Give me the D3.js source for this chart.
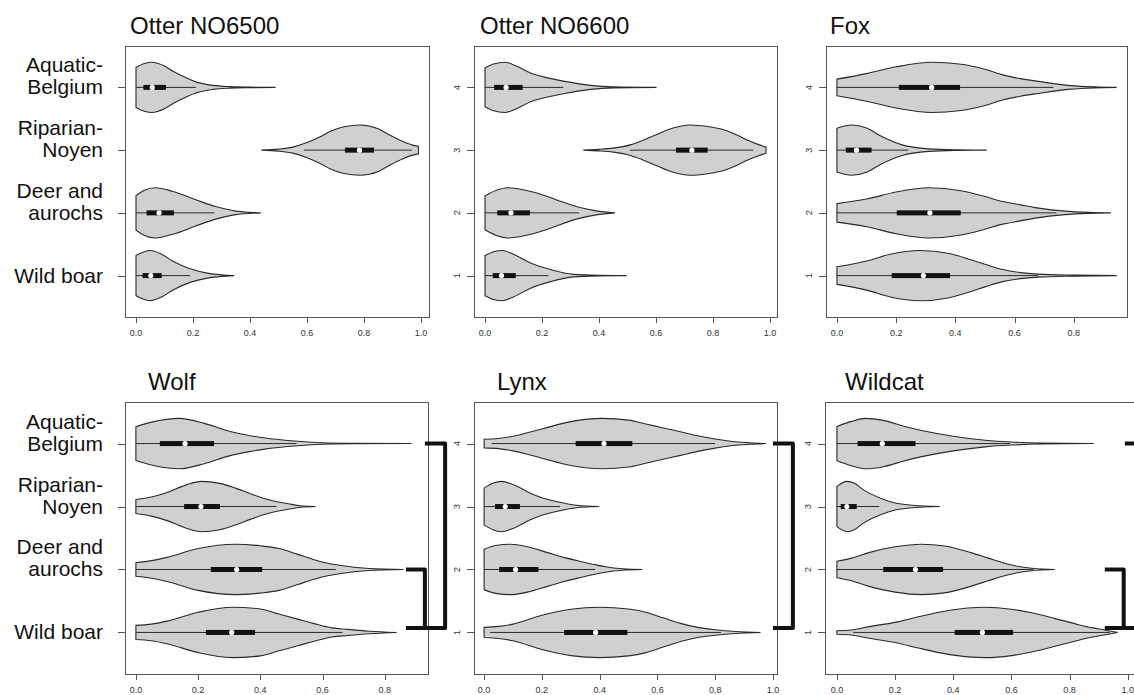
<!DOCTYPE html>
<html>
<head>
<meta charset="utf-8">
<script src="https://cdnjs.cloudflare.com/ajax/libs/d3/7.8.5/d3.min.js"></script>
<style>
  body { margin: 0; background: #fff; }
  svg { display: block; font-family: "Liberation Sans", Arial, sans-serif; }
</style>
</head>
<body>
<svg id="chart" width="1134" height="695"></svg>
<script>
// groups, top to bottom, and their position on the y axis
const groupNames = [["Aquatic-", "Belgium"], ["Riparian-", "Noyen"], ["Deer and", "aurochs"], ["Wild boar"]]
const groupPos = [4, 3, 2, 1]

const panelTitles = ["Otter NO6500", "Otter NO6600", "Fox", "Wolf", "Lynx", "Wildcat"]

// one violin = [position, whiskerLo, whiskerHi, q1, median, q3, density profile [value, relative half width]]
const otter6500 = [
  [4, 0, 0.21, 0.026, 0.057, 0.105, [[0,0.8],[0.03,0.95],[0.055,1],[0.1,0.85],[0.13,0.64],[0.178,0.37],[0.21,0.22],[0.27,0.08],[0.33,0.03],[0.4,0.01],[0.49,0]]],
  [3, 0.59, 0.968, 0.733, 0.784, 0.835, [[0.44,0],[0.5,0.04],[0.55,0.12],[0.6,0.3],[0.65,0.55],[0.68,0.74],[0.73,0.93],[0.786,1],[0.85,0.85],[0.89,0.6],[0.937,0.34],[0.97,0.2],[0.991,0.15]]],
  [2, 0, 0.275, 0.037, 0.081, 0.133, [[0,0.69],[0.03,0.9],[0.067,1],[0.13,0.85],[0.21,0.52],[0.28,0.25],[0.35,0.07],[0.4,0.02],[0.438,0]]],
  [1, 0, 0.19, 0.023, 0.052, 0.09, [[0,0.8],[0.05,1],[0.09,0.85],[0.13,0.57],[0.19,0.27],[0.25,0.1],[0.3,0.03],[0.344,0]]]
]
const otter6600 = [
  [4, 0, 0.275, 0.032, 0.074, 0.132, [[0,0.77],[0.03,0.93],[0.07,1],[0.11,0.85],[0.16,0.57],[0.22,0.38],[0.28,0.24],[0.37,0.08],[0.45,0.02],[0.602,0]]],
  [3, 0.509, 0.942, 0.67, 0.726, 0.781, [[0.345,0],[0.4,0.03],[0.45,0.08],[0.51,0.21],[0.55,0.37],[0.6,0.61],[0.66,0.88],[0.72,1],[0.78,0.94],[0.84,0.8],[0.88,0.62],[0.92,0.4],[0.96,0.22],[0.986,0.12]]],
  [2, 0, 0.33, 0.043, 0.091, 0.158, [[0,0.67],[0.04,0.9],[0.08,1],[0.15,0.88],[0.22,0.65],[0.27,0.44],[0.32,0.25],[0.39,0.08],[0.456,0]]],
  [1, 0, 0.222, 0.027, 0.058, 0.108, [[0,0.8],[0.03,0.95],[0.06,1],[0.1,0.85],[0.16,0.5],[0.23,0.24],[0.31,0.05],[0.4,0.01],[0.497,0]]]
]
const fox = [
  [4, 0, 0.731, 0.209, 0.32, 0.416, [[0,0.33],[0.1,0.55],[0.2,0.82],[0.32,1],[0.42,0.92],[0.5,0.72],[0.56,0.5],[0.62,0.35],[0.68,0.24],[0.79,0.07],[0.87,0.02],[0.945,0]]],
  [3, 0, 0.241, 0.03, 0.066, 0.117, [[0,0.87],[0.05,1],[0.1,0.88],[0.15,0.55],[0.22,0.21],[0.31,0.05],[0.4,0.01],[0.506,0]]],
  [2, 0, 0.742, 0.202, 0.314, 0.418, [[0,0.37],[0.1,0.55],[0.2,0.83],[0.31,1],[0.42,0.88],[0.5,0.65],[0.56,0.45],[0.62,0.32],[0.67,0.21],[0.77,0.07],[0.85,0.02],[0.926,0]]],
  [1, 0, 0.68, 0.185, 0.292, 0.382, [[0,0.35],[0.1,0.58],[0.18,0.85],[0.28,1],[0.38,0.88],[0.45,0.64],[0.5,0.45],[0.56,0.24],[0.62,0.12],[0.68,0.06],[0.8,0.02],[0.945,0]]]
]
const wolf = [
  [4, 0, 0.516, 0.077, 0.158, 0.251, [[0,0.67],[0.05,0.85],[0.14,1],[0.22,0.8],[0.3,0.49],[0.36,0.33],[0.41,0.23],[0.52,0.09],[0.6,0.03],[0.7,0.01],[0.886,0]]],
  [3, 0, 0.452, 0.155, 0.209, 0.27, [[0,0.28],[0.05,0.38],[0.1,0.56],[0.16,0.85],[0.21,1],[0.27,0.92],[0.32,0.73],[0.37,0.5],[0.41,0.33],[0.45,0.2],[0.49,0.11],[0.53,0.03],[0.578,0]]],
  [2, 0, 0.643, 0.241, 0.324, 0.406, [[0,0.27],[0.05,0.35],[0.1,0.48],[0.2,0.83],[0.32,1],[0.4,0.94],[0.46,0.83],[0.52,0.6],[0.57,0.4],[0.62,0.24],[0.66,0.16],[0.75,0.04],[0.86,0]]],
  [1, 0, 0.664, 0.225, 0.308, 0.383, [[0,0.28],[0.05,0.33],[0.1,0.45],[0.2,0.8],[0.31,1],[0.4,0.93],[0.46,0.73],[0.52,0.53],[0.57,0.36],[0.63,0.18],[0.68,0.12],[0.75,0.05],[0.838,0]]]
]
const lynx = [
  [4, 0.026, 0.8, 0.317, 0.415, 0.513, [[0,0.17],[0.05,0.2],[0.1,0.29],[0.2,0.58],[0.3,0.87],[0.41,1],[0.5,0.93],[0.56,0.78],[0.62,0.62],[0.68,0.47],[0.74,0.31],[0.8,0.18],[0.86,0.08],[0.92,0.03],[0.976,0]]],
  [3, 0, 0.263, 0.038, 0.073, 0.124, [[0,0.73],[0.03,0.92],[0.06,1],[0.1,0.87],[0.16,0.53],[0.2,0.35],[0.25,0.2],[0.32,0.05],[0.398,0]]],
  [2, 0, 0.384, 0.052, 0.109, 0.188, [[0,0.8],[0.04,0.95],[0.09,1],[0.15,0.9],[0.22,0.67],[0.28,0.47],[0.33,0.33],[0.38,0.2],[0.42,0.11],[0.48,0.03],[0.548,0]]],
  [1, 0.02, 0.82, 0.277, 0.386, 0.496, [[0,0.2],[0.05,0.24],[0.1,0.33],[0.2,0.68],[0.3,0.92],[0.4,1],[0.5,0.93],[0.56,0.8],[0.62,0.58],[0.68,0.36],[0.74,0.2],[0.8,0.11],[0.87,0.04],[0.957,0]]]
]
const wildcat = [
  [4, 0, 0.595, 0.071, 0.156, 0.27, [[0,0.68],[0.05,0.88],[0.1,1],[0.16,0.92],[0.23,0.69],[0.3,0.5],[0.4,0.29],[0.51,0.13],[0.6,0.06],[0.7,0.02],[0.883,0]]],
  [3, 0, 0.146, 0.013, 0.034, 0.068, [[0,0.8],[0.035,1],[0.06,0.92],[0.09,0.67],[0.15,0.33],[0.2,0.14],[0.26,0.05],[0.354,0]]],
  [2, 0, 0.675, 0.159, 0.27, 0.365, [[0,0.33],[0.05,0.45],[0.11,0.67],[0.2,0.9],[0.29,1],[0.37,0.93],[0.46,0.67],[0.52,0.45],[0.57,0.27],[0.62,0.13],[0.67,0.05],[0.749,0]]],
  [1, 0.056, 0.938, 0.405, 0.5, 0.606, [[0,0.07],[0.05,0.1],[0.11,0.23],[0.2,0.4],[0.28,0.62],[0.37,0.84],[0.45,0.97],[0.51,1],[0.6,0.92],[0.7,0.7],[0.75,0.55],[0.82,0.34],[0.88,0.18],[0.92,0.1],[0.965,0]]]
]
const panelData = [otter6500, otter6600, fox, wolf, lynx, wildcat]

// brackets: [panel, from position, to position, x start, x end]
const brackets = [
  [3, 2, 1.07, 0.868, 0.929],
  [3, 4, 1.07, 0.929, 0.994],
  [4, 4, 1.07, 1.0, 1.069],
  [5, 2, 1.07, 0.921, 0.986],
  [5, 4, 1.07, 0.99, 1.06]
]

// panel boxes (pixels) and x ranges
const layout = [
  {left: 125, right: 429, top: 46, bottom: 317, dom: [-0.0386, 1.028], titleDx: 5},
  {left: 474, right: 777, top: 46, bottom: 317, dom: [-0.0386, 1.0246], titleDx: 6},
  {left: 826, right: 1127, top: 46, bottom: 317, dom: [-0.037, 0.98], titleDx: 4},
  {left: 125, right: 428, top: 402, bottom: 674, dom: [-0.035, 0.939], titleDx: 23},
  {left: 474, right: 777, top: 402, bottom: 674, dom: [-0.035, 1.014], titleDx: 23},
  {left: 825, right: 1140, top: 402, bottom: 674, dom: [-0.041, 1.042], titleDx: 20}
]

const svg = d3.select("#chart")
const fillCol = "#d0d0d0"
const lineCol = "#2a2a2a"
const frameCol = "#555"

layout.forEach((L, pi) => {
  let x = d3.scaleLinear().domain(L.dom).range([L.left, L.right])
  let y = d3.scaleLinear().domain([0.34, 4.66]).range([L.bottom, L.top])
  let hw = y(0) - y(0.4)
  let g = svg.append("g")

  // violins
  panelData[pi].forEach(v => {
    let [pos, wlo, whi, q1, med, q3, prof] = v
    let yc = y(pos)
    let area = d3.area()
      .x(d => x(d[0]))
      .y0(d => yc - d[1] * hw)
      .y1(d => yc + d[1] * hw)
      .curve(d3.curveMonotoneX)
    g.append("path")
      .attr("d", area(prof))
      .attr("fill", fillCol)
      .attr("stroke", lineCol)
      .attr("stroke-width", 1.1)
    g.append("line")
      .attr("x1", x(wlo)).attr("x2", x(whi))
      .attr("y1", yc).attr("y2", yc)
      .attr("stroke", lineCol)
      .attr("stroke-width", 1)
    g.append("rect")
      .attr("x", x(q1)).attr("width", x(q3) - x(q1))
      .attr("y", yc - 2.5).attr("height", 5)
      .attr("fill", "#111")
    g.append("circle")
      .attr("cx", x(med)).attr("cy", yc).attr("r", 2.6)
      .attr("fill", "#fff")
  })

  // frame
  g.append("rect")
    .attr("x", L.left + 0.5).attr("y", L.top + 0.5)
    .attr("width", L.right - L.left).attr("height", L.bottom - L.top)
    .attr("fill", "none")
    .attr("stroke", frameCol)

  // x axis
  let ticks = d3.range(0, L.dom[1] + 1e-9, 0.2).filter(t => x(t) < 1134)
  let xa = g.append("g")
  xa.append("line")
    .attr("x1", x(0)).attr("x2", x(ticks[ticks.length - 1]))
    .attr("y1", L.bottom + 0.5).attr("y2", L.bottom + 0.5)
    .attr("stroke", frameCol)
  ticks.forEach(t => {
    xa.append("line")
      .attr("x1", Math.round(x(t)) + 0.5).attr("x2", Math.round(x(t)) + 0.5)
      .attr("y1", L.bottom).attr("y2", L.bottom + 6)
      .attr("stroke", frameCol)
    xa.append("text")
      .attr("x", x(t)).attr("y", L.bottom + 19)
      .attr("text-anchor", "middle")
      .attr("font-size", 9)
      .attr("fill", "#333")
      .text(d3.format(".1f")(t))
  })

  // y axis
  groupPos.forEach((p, gi) => {
    let yy = Math.round(y(p)) + 0.5
    g.append("line")
      .attr("x1", L.left - 7).attr("x2", L.left)
      .attr("y1", yy).attr("y2", yy)
      .attr("stroke", frameCol)
    if (pi % 3 === 0) {
      let lines = groupNames[gi]
      lines.forEach((s, li) => {
        g.append("text")
          .attr("x", 103)
          .attr("y", y(p) + 7 - (lines.length - 1 - li) * 22)
          .attr("text-anchor", "end")
          .attr("font-size", 21)
          .attr("fill", "#111")
          .text(s)
      })
    } else {
      g.append("text")
        .attr("transform", `translate(${L.left - 14},${y(p)}) rotate(-90)`)
        .attr("text-anchor", "middle")
        .attr("font-size", 9)
        .attr("fill", "#333")
        .text(p)
    }
  })

  // title
  g.append("text")
    .attr("x", L.left + L.titleDx)
    .attr("y", L.top - 12)
    .attr("font-size", 24)
    .attr("fill", "#111")
    .text(panelTitles[pi])
})

// brackets
brackets.forEach(b => {
  let [pi, from, to, xs, xe] = b
  let L = layout[pi]
  let x = d3.scaleLinear().domain(L.dom).range([L.left, L.right])
  let y = d3.scaleLinear().domain([0.34, 4.66]).range([L.bottom, L.top])
  let path = d3.path()
  path.moveTo(x(xs), y(from))
  path.lineTo(x(xe), y(from))
  path.lineTo(x(xe), y(to))
  path.lineTo(x(xs), y(to))
  svg.append("path")
    .attr("d", path.toString())
    .attr("fill", "none")
    .attr("stroke", "#111")
    .attr("stroke-width", 4)
    .attr("stroke-linejoin", "round")
})
</script>
</body>
</html>
